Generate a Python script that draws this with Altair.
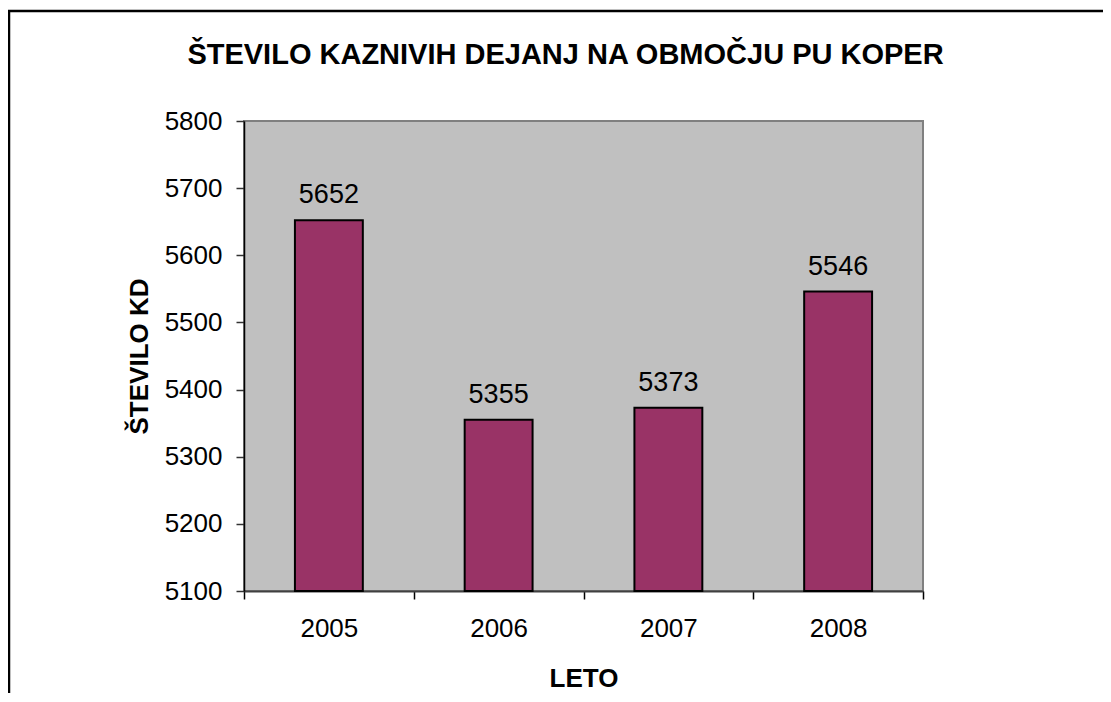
import altair as alt
import pandas as pd

years = ["2005", "2006", "2007", "2008"]
counts = [5652, 5355, 5373, 5546]
y_ticks = [5100, 5200, 5300, 5400, 5500, 5600, 5700, 5800]
y_min, y_max = 5100, 5800

df = pd.DataFrame({"leto": years, "st": counts})

FONT = "Liberation Sans"
W, H = 679, 470
PAD = {"left": 236, "top": 113, "right": 180, "bottom": 102}

base = alt.Chart(df)

x_enc = alt.X(
    "leto:N",
    title="LETO",
    sort=years,
    scale=alt.Scale(paddingInner=0, paddingOuter=0),
    axis=alt.Axis(
        labelAngle=0,
        labelFontSize=26,
        labelFont=FONT,
        labelColor="#000000",
        labelPadding=16,
        tickSize=8,
        tickBand="extent",
        tickColor="#000000",
        tickWidth=1.5,
        domainColor="#404040",
        domainWidth=2,
        titleFontSize=26,
        titleFont=FONT,
        titleFontWeight="bold",
        titleColor="#000000",
        titlePadding=24,
        grid=False,
    ),
)

y_enc = alt.Y(
    "st:Q",
    title="ŠTEVILO KD",
    scale=alt.Scale(domain=[y_min, y_max], zero=False, nice=False),
    axis=alt.Axis(
        values=y_ticks,
        format="d",
        labelFontSize=26,
        labelFont=FONT,
        labelColor="#000000",
        labelPadding=14,
        tickSize=8,
        tickColor="#333333",
        tickWidth=1.5,
        domainColor="#000000",
        domainWidth=1.5,
        titleFontSize=26,
        titleFont=FONT,
        titleFontWeight="bold",
        titleColor="#000000",
        titlePadding=12,
        grid=False,
    ),
)

bars = base.mark_bar(
    color="#993366", stroke="#000000", strokeWidth=2,
    width=alt.RelativeBandSize(0.4),
).encode(x=x_enc, y=y_enc, y2=alt.datum(y_min))

labels = base.mark_text(
    fontSize=27, font=FONT, color="#000000", baseline="alphabetic", dy=-17
).encode(x=alt.X("leto:N", sort=years), y=alt.Y("st:Q"), text=alt.Text("st:Q"))

frame_data = alt.Data(values=[{"k": 1}])
top_line = alt.Chart(frame_data).mark_rule(color="#000000", strokeWidth=2.5).encode(
    x=alt.value(-236), x2=alt.value(W + PAD["right"]), y=alt.value(-110)
)
left_line = alt.Chart(frame_data).mark_rule(color="#000000", strokeWidth=2.5).encode(
    x=alt.value(-235), y=alt.value(-111), y2=alt.value(H + PAD["bottom"])
)

chart = alt.layer(bars, labels, top_line, left_line).properties(
    width=W,
    height=H,
    padding=PAD,
    autosize=alt.AutoSizeParams(type="none"),
    background="#ffffff",
    title=alt.TitleParams(
        text="ŠTEVILO KAZNIVIH DEJANJ NA OBMOČJU PU KOPER",
        font=FONT,
        fontSize=29,
        fontWeight="bold",
        color="#000000",
        anchor="middle",
        baseline="alphabetic",
        dx=-18,
        offset=-84,
    ),
).configure_view(
    fill="#C0C0C0", stroke="#808080", strokeWidth=2
)

chart.save("out.html", embed_options={"renderer": "svg", "actions": False})
